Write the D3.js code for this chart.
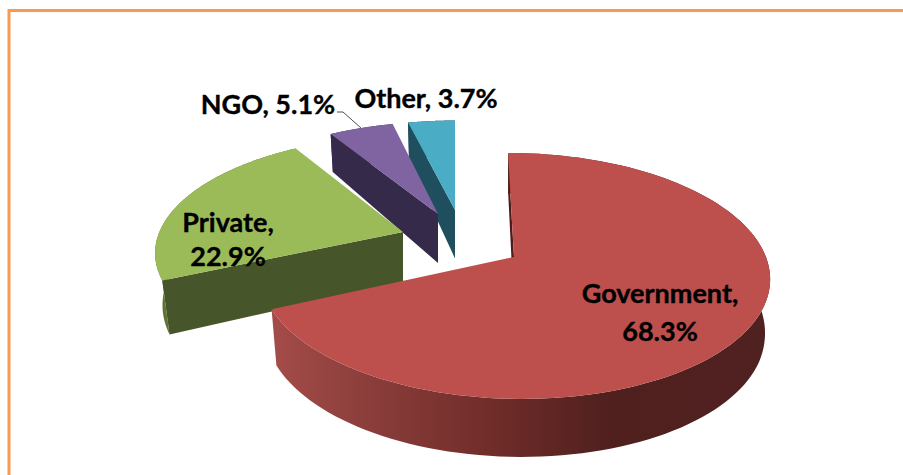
<!DOCTYPE html>
<html>
<head>
<meta charset="utf-8">
<script src="https://cdn.jsdelivr.net/npm/d3@7"></script>
<style>
	html, body { margin: 0; padding: 0; background: #fff; overflow: hidden; }
	svg { display: block; }
	text { font-family: Lato, "Open Sans", sans-serif; font-weight: 700; font-size: 27px; fill: #000; stroke: #000; stroke-width: 0.35px; }
</style>
</head>
<body>
<svg width="903" height="475"></svg>
<script>
var categories = ['Government', 'Private', 'NGO', 'Other'];
var shares = [68.3, 22.9, 5.1, 3.7];

// Colours, one per category.
var topColors = ['#bd4f4c', '#9bbb59', '#8064a2', '#4bacc6'];
var faceColors = ['#4f1c1a', '#47552a', '#352a4a', '#1f4f5e'];
var rimColors = ['url(#govRim)', '#5e7434', '#352a4a', '#1f4f5e'];

// Where each exploded slice sits on the page: its tip, its x and y scale,
// its lean and how much the underside pulls in towards the tip.
var placement = [
	{ tipX: 514, tipY: 257, kx: 1, ky: 1, lean: -7, pull: 0.98 },
	{ tipX: 403, tipY: 232, kx: 0.967, ky: 0.925, lean: 8, pull: 0.97 },
	{ tipX: 438, tipY: 214, kx: 0.93, ky: 0.885, lean: 2, pull: 0.98 },
	{ tipX: 455, tipY: 210, kx: 0.93, ky: 0.86, lean: 0, pull: 0.98 }
];

// Label lines are anchored separately from the slices.
var labelSpots = [
	{ x: 660, y: 303, lead: 38, oneLine: false },
	{ x: 228, y: 232, lead: 34, oneLine: false },
	{ x: 268, y: 114, lead: 0, oneLine: true },
	{ x: 426, y: 108, lead: 0, oneLine: true }
];

var radiusX = 255, radiusY = 123;
var tipShift = 0.154; // how far perspective pushes the pie centre towards the back

var svg = d3.select('svg');

// Scale from disc units to pixels, relative to a slice tip.
var scaleX = d3.scaleLinear().domain([0, 1]).range([0, radiusX]);
var scaleY = d3.scaleLinear().domain([0, 1]).range([0, -radiusY]);

// Wall height grows towards the viewer.
var wallDepth = d3.scaleLinear().domain([120, 214, 308, 400]).range([36, 49, 56, 58]);

// Project a point on the flat unit disc to the page, keeping straight lines straight.
var project = function (place, r, angle) {
	var px = r * Math.sin(angle), py = r * Math.cos(angle);
	var w = 1 + tipShift * py;
	var discX = px * Math.sqrt(1 - tipShift * tipShift) / w;
	var discY = (py + tipShift) / w - tipShift;
	return [
		place.tipX + place.kx * scaleX(discX) + place.lean * discY,
		place.tipY + place.ky * scaleY(discY)
	];
};

// The same point dropped to the underside of the slice.
var dropped = function (place, p) {
	return [place.tipX + (p[0] - place.tipX) * place.pull, p[1] + wallDepth(p[1])];
};

var pie = d3.pie().sort(null).value(function (d) { return d; });
var arcs = pie(shares);
var line = d3.line();

var defs = svg.append('defs');
var govRim = defs.append('linearGradient')
	.attr('id', 'govRim')
	.attr('gradientUnits', 'userSpaceOnUse')
	.attr('x1', 272).attr('x2', 770).attr('y1', 0).attr('y2', 0);
[[0, '#a44c49'], [0.2, '#8a3d3a'], [0.45, '#6f2c29'], [0.68, '#4f201e'], [1, '#4f2120']].forEach(function (s) {
	govRim.append('stop').attr('offset', s[0]).attr('stop-color', s[1]);
});

// Orange frame, open on the right and at the bottom.
svg.append('path')
	.attr('d', line([[9, 475], [9, 10.5], [903, 10.5]]))
	.attr('fill', 'none')
	.attr('stroke', '#f79a52')
	.attr('stroke-width', 3);

// Draw back to front so the nearer slices cover the walls behind them.
d3.range(arcs.length - 1, -1, -1).forEach(function (i) {
	var arc = arcs[i], place = placement[i];
	var steps = d3.range(0, 121).map(function (s) {
		return arc.startAngle + (arc.endAngle - arc.startAngle) * s / 120;
	});
	var rim = steps.map(function (a) { return project(place, 1, a); });
	var rimLow = rim.map(function (p) { return dropped(place, p); });
	var tip = project(place, 0, 0);
	var g = svg.append('g').attr('class', 'slice');

	g.append('path')
		.attr('d', line(rim.concat(rimLow.slice().reverse())) + 'Z')
		.attr('fill', rimColors[i]);
	g.append('path')
		.attr('d', line([rim[0], tip, dropped(place, tip), rimLow[0]]) + 'Z')
		.attr('fill', faceColors[i]);
	g.append('path')
		.attr('d', line([tip].concat(rim)) + 'Z')
		.attr('fill', topColors[i]);
});

// Leader from the NGO label to its slice.
svg.append('path')
	.attr('d', line([[337, 112], [343, 112], [361, 128]]))
	.attr('fill', 'none')
	.attr('stroke', '#222')
	.attr('stroke-width', 0.8);

categories.forEach(function (name, i) {
	var spot = labelSpots[i];
	var label = svg.append('text').attr('text-anchor', 'middle').attr('x', spot.x).attr('y', spot.y);
	if (spot.oneLine) {
		label.text(name + ', ' + shares[i] + '%');
	} else {
		label.append('tspan').attr('x', spot.x).text(name + ',');
		label.append('tspan').attr('x', spot.x).attr('dy', spot.lead).text(shares[i] + '%');
	}
});
</script>
</body>
</html>
